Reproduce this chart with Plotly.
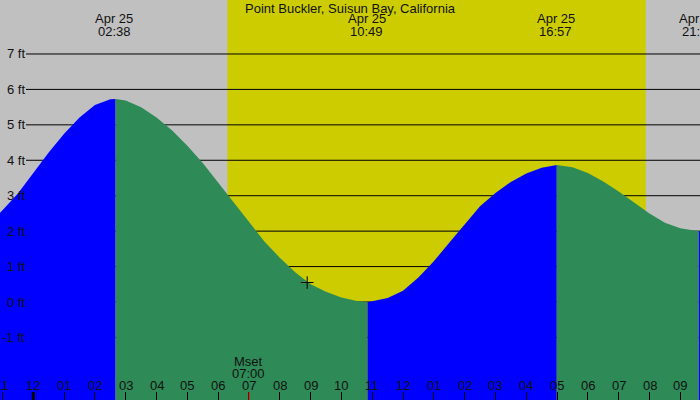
import plotly.graph_objects as go

# ---------------- data (hours from midnight, Apr 25; heights in ft) ----------------
TITLE = "Point Buckler, Suisun Bay, California"

seg1_t = [-1.5, -1.0, -0.5, 0.0, 0.5, 1.0, 1.5, 2.0, 2.5, 2.67]
seg1_h = [2.16, 2.59, 3.06, 3.63, 4.22, 4.75, 5.21, 5.56, 5.72, 5.73]

seg2_t = [2.67, 3.0, 3.5, 4.0, 4.5, 5.0, 5.5, 6.0, 6.5, 7.0, 7.5, 8.0, 8.5, 9.0, 9.5,
          10.0, 10.5, 10.85]
seg2_h = [5.73, 5.69, 5.50, 5.21, 4.85, 4.41, 3.92, 3.37, 2.80, 2.24, 1.71, 1.25, 0.84,
          0.50, 0.29, 0.13, 0.03, 0.00]

seg3_t = [10.85, 11.0, 11.5, 12.0, 12.5, 13.0, 13.5, 14.0, 14.5, 15.0, 15.5, 16.0, 16.5, 16.99]
seg3_h = [0.00, 0.02, 0.11, 0.32, 0.69, 1.15, 1.67, 2.19, 2.70, 3.08, 3.39, 3.63, 3.79, 3.87]

seg4_t = [16.99, 17.5, 18.0, 18.5, 19.0, 19.5, 20.0, 20.5, 21.0, 21.6]
seg4_h = [3.87, 3.80, 3.64, 3.40, 3.12, 2.81, 2.50, 2.24, 2.08, 2.00]

seg5_t = [21.6, 22.0, 22.5]
seg5_h = [2.00, 2.04, 2.14]

segments = [(seg1_t, seg1_h, "rise"), (seg2_t, seg2_h, "fall"), (seg3_t, seg3_h, "rise"),
            (seg4_t, seg4_h, "fall"), (seg5_t, seg5_h, "rise")]

event_t = [2.633, 10.817, 16.95, 21.583]
event_date = ["Apr 25", "Apr 25", "Apr 25", "Apr 25"]
event_time = ["02:38", "10:49", "16:57", "21:35"]

sunrise_t = 6.3
sunset_t = 19.88

moonset_t = 7.0
moonset_label = ["Mset", "07:00"]

now_t = [8.89]
now_h = [0.55]

hour_ticks = list(range(-1, 22))
hour_labels = ["11", "12", "01", "02", "03", "04", "05", "06", "07", "08", "09", "10",
               "11", "12", "01", "02", "03", "04", "05", "06", "07", "08", "09"]

ft_values = [-1, 0, 1, 2, 3, 4, 5, 6, 7]
ft_labels = ["-1 ft", "0 ft", "1 ft", "2 ft", "3 ft", "4 ft", "5 ft", "6 ft", "7 ft"]

X_RANGE = [-1.0808, 21.639]
Y_RANGE = [-2.766, 8.524]

# ---------------- style ----------------
W, H = 700, 400
GRAY = "#c0c0c0"
DAY = "#cccc00"
RISE = "#0000ff"
FALL = "#2e8b57"
TXT = "#111111"
FONT = "Liberation Sans, Arial, sans-serif"
FS = 13

fig = go.Figure()
base = Y_RANGE[0] - 1
for t, h, kind in segments:
    fig.add_trace(go.Scatter(x=t, y=[base] * len(t), mode="lines", line=dict(width=0),
                             hoverinfo="skip", showlegend=False))
    fig.add_trace(go.Scatter(x=t, y=h, mode="lines", line=dict(width=0),
                             fill="tonexty", fillcolor=RISE if kind == "rise" else FALL,
                             hoverinfo="skip", showlegend=False))

fig.add_trace(go.Scatter(x=now_t, y=now_h, mode="markers",
                         marker=dict(symbol="cross-thin", size=9, color="black",
                                     line=dict(width=1, color="black")),
                         hoverinfo="skip", showlegend=False))

shapes = [dict(type="rect", xref="x", yref="paper", x0=sunrise_t, x1=sunset_t, y0=0, y1=1,
               fillcolor=DAY, line=dict(width=0), layer="below")]
for v in ft_values:
    shapes.append(dict(type="line", xref="paper", yref="y", x0=26 / W, x1=1, y0=v, y1=v,
                       line=dict(color="black", width=1), layer="below"))
shapes.append(dict(type="line", xref="x", yref="paper", x0=0, x1=0, y0=0, y1=8 / H,
                   line=dict(color="black", width=3), layer="above"))
shapes.append(dict(type="line", xref="x", yref="paper", x0=moonset_t, x1=moonset_t, y0=0, y1=8 / H,
                   line=dict(color="red", width=1), layer="above"))

ann = []
font = dict(family=FONT, size=FS, color=TXT)


def py(px):
    return 1 - px / H


def add_text(text, xref, x, yref, y, xanchor="center"):
    ann.append(dict(text=text, xref=xref, yref=yref, x=x, y=y, xanchor=xanchor,
                    yanchor="middle", showarrow=False, font=font, borderpad=0, borderwidth=0))


add_text(TITLE, "paper", 0.5, "paper", py(8))
for t, d, tm in zip(event_t, event_date, event_time):
    add_text(d, "x", t, "paper", py(18.7))
    add_text(tm, "x", t, "paper", py(31.5))
add_text(moonset_label[0], "x", moonset_t, "paper", py(361.3))
add_text(moonset_label[1], "x", moonset_t, "paper", py(373.8))
for t, lab in zip(hour_ticks, hour_labels):
    add_text(lab, "x", t, "paper", py(385.5))
for v, lab in zip(ft_values, ft_labels):
    add_text(lab, "paper", 25 / W, "y", v, xanchor="right")

fig.update_layout(
    width=W, height=H, margin=dict(l=0, r=0, t=0, b=0),
    paper_bgcolor=GRAY, plot_bgcolor=GRAY,
    shapes=shapes, annotations=ann, showlegend=False,
    xaxis=dict(range=X_RANGE, showgrid=False, zeroline=False, showline=False,
               ticks="inside", ticklen=8, tickwidth=1, tickcolor="black",
               tickvals=hour_ticks, showticklabels=False, fixedrange=True),
    yaxis=dict(range=Y_RANGE, showgrid=False, zeroline=False, showline=False,
               showticklabels=False, ticks="", fixedrange=True),
)

fig.write_html("out.html", config={"displayModeBar": False})
